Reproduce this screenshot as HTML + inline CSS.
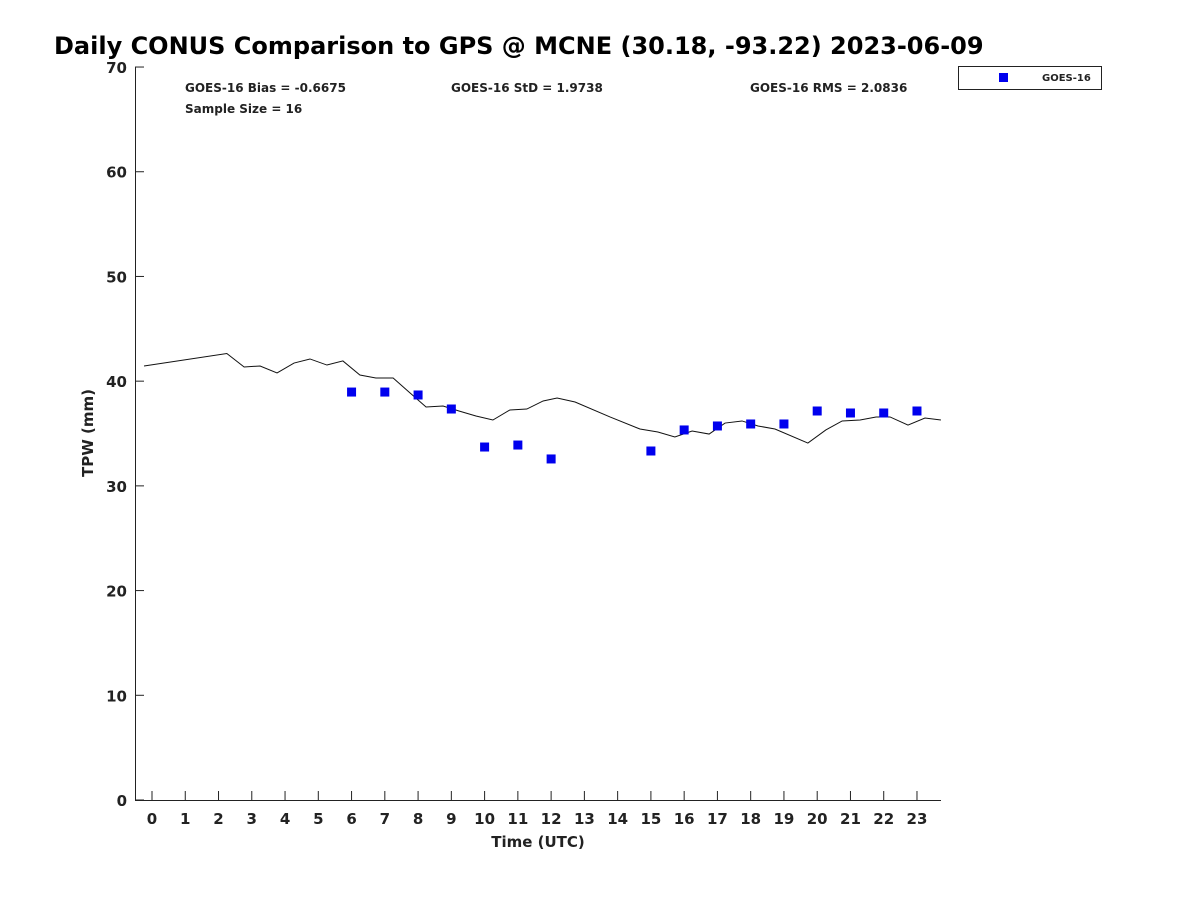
<!DOCTYPE html>
<html><head><meta charset="utf-8"><style>
body{margin:0;background:#fff;font-family:"Liberation Sans","DejaVu Sans",sans-serif}
svg text{font-family:"DejaVu Sans","Liberation Sans",sans-serif;font-weight:bold;fill:#222}
</style></head><body>
<svg id="chart" width="1200" height="900">
<text x="54" y="54" font-size="24" style="fill:#000">Daily CONUS Comparison to GPS @ MCNE (30.18, -93.22) 2023-06-09</text>
<text x="185" y="92" font-size="12">GOES-16 Bias = -0.6675</text>
<text x="451" y="92" font-size="12">GOES-16 StD = 1.9738</text>
<text x="750" y="92" font-size="12">GOES-16 RMS = 2.0836</text>
<text x="185" y="113" font-size="12">Sample Size = 16</text>
<g>
<rect x="958.5" y="66.5" width="143" height="23" fill="#fff" stroke="#222"/>
<rect x="999" y="73" width="9" height="9" fill="#0000ee"/>
<text x="1042" y="81" font-size="10">GOES-16</text>
</g>
<text transform="translate(93,433) rotate(-90)" text-anchor="middle" font-size="15">TPW (mm)</text>
<text x="538" y="847" text-anchor="middle" font-size="15">Time (UTC)</text>
<g id="axes"></g>
<g id="marks"></g>
</svg>
<script>
const lineHours=[-0.24,2.25,2.77,3.25,3.76,4.27,4.75,5.26,5.74,6.25,6.73,7.25,7.76,8.24,8.75,9.23,9.74,10.25,10.76,11.27,11.76,12.18,12.72,13.77,14.67,15.21,15.72,16.24,16.75,17.23,17.74,18.22,18.73,19.72,20.26,20.75,21.29,21.77,22.19,22.73,23.24,23.72];
const lineValues=[41.45,42.64,41.35,41.45,40.78,41.73,42.12,41.54,41.93,40.59,40.30,40.30,38.87,37.53,37.63,37.15,36.67,36.29,37.25,37.34,38.11,38.39,38.01,36.58,35.43,35.14,34.67,35.24,34.95,36.00,36.20,35.72,35.43,34.09,35.34,36.20,36.29,36.58,36.58,35.81,36.48,36.29];
const goesHours=[6,7,8,9,10,11,12,15,16,17,18,19,20,21,22,23];
const goesValues=[38.96,38.96,38.68,37.34,33.71,33.90,32.57,33.33,35.34,35.72,35.91,35.91,37.15,36.96,36.96,37.15];
const xTicks=[0,1,2,3,4,5,6,7,8,9,10,11,12,13,14,15,16,17,18,19,20,21,22,23];
const yTicks=[0,10,20,30,40,50,60,70];
const NS='http://www.w3.org/2000/svg';
const X=h=>152+(h)*33.26;
const Y=v=>800-v*10.471;
const axes=document.getElementById('axes'),marks=document.getElementById('marks');
function mk(tag,attrs,parent){const e=document.createElementNS(NS,tag);for(const k in attrs)e.setAttribute(k,attrs[k]);parent.appendChild(e);return e;}
let a=mk('path',{d:'M135.5,67 V800.5 H941',fill:'none',stroke:'#222','stroke-width':1},axes);


xTicks.forEach(t=>{
 const l=mk('line',{x1:X(t),x2:X(t),y1:800,y2:791,stroke:'#222'},axes);
 
 
 const tx=mk('text',{x:X(t),y:824,'text-anchor':'middle','font-size':15},axes);
 tx.textContent=t;
 
 
});
yTicks.forEach(t=>{
 const l=mk('line',{x1:135,x2:144,y1:Y(t),y2:Y(t),stroke:'#222'},axes);
 
 
 const tx=mk('text',{x:127,y:Y(t)+6,'text-anchor':'end','font-size':15},axes);
 tx.textContent=t;
 
 
});
const pl=mk('polyline',{points:lineHours.map((h,i)=>X(h)+','+Y(lineValues[i])).join(' '),fill:'none',stroke:'#111','stroke-width':1},marks);


goesHours.forEach((h,i)=>{
 const r=mk('rect',{x:X(h)-4.5,y:Y(goesValues[i])-4.5,width:9,height:9,fill:'#0000ee'},marks);
 
 
});
</script>
</body></html>
